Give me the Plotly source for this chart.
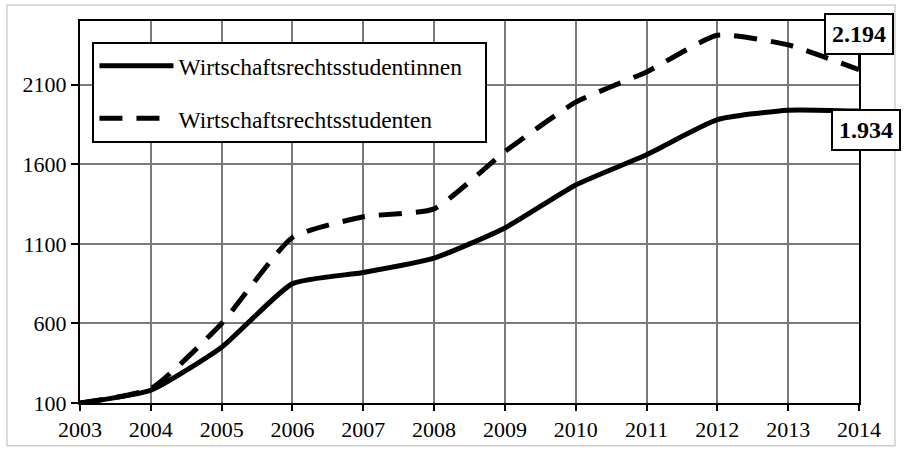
import plotly.graph_objects as go

# Jahre und Studierendenzahlen im Wirtschaftsrecht
years = [2003, 2004, 2005, 2006, 2007, 2008, 2009, 2010, 2011, 2012, 2013, 2014]
studentinnen = [100, 180, 450, 850, 920, 1010, 1200, 1470, 1660, 1880, 1940, 1934]
studenten = [100, 190, 600, 1140, 1270, 1320, 1680, 1990, 2180, 2410, 2350, 2194]

series_names = ["Wirtschaftsrechtsstudentinnen", "Wirtschaftsrechtsstudenten"]
y_ticks = [100, 600, 1100, 1600, 2100]
x_ticks = years
end_labels = ["1.934", "2.194"]

FONT = "Liberation Serif, Times New Roman, serif"
PAD = "\u00a0\u00a0\u00a0"  # etwas Luft rechts im Legendenrahmen

fig = go.Figure()

fig.add_trace(go.Scatter(
    x=years, y=studentinnen, mode="lines", name=series_names[0] + PAD,
    line=dict(color="black", width=5, shape="spline", smoothing=0.5),
    legendgroup="a",
))
fig.add_trace(go.Scatter(
    x=years, y=studenten, mode="lines", name=series_names[1],
    line=dict(color="black", width=5, shape="spline", smoothing=0.5, dash="23px,14px"),
    legendgroup="b",
))

# Endwerte als umrahmte Beschriftungen
fig.add_annotation(
    x=years[-1], y=studenten[-1], text="<b>%s</b>" % end_labels[1],
    showarrow=True, arrowhead=0, arrowwidth=2, arrowcolor="black",
    ax=0, ay=-36, xanchor="center", yanchor="middle",
    font=dict(family=FONT, size=24, color="black"),
    bordercolor="black", borderwidth=2, borderpad=6, bgcolor="white",
)
fig.add_annotation(
    x=years[-1], y=studentinnen[-1], text="<b>%s</b>" % end_labels[0],
    showarrow=True, arrowhead=0, arrowwidth=2, arrowcolor="black",
    ax=7, ay=19, xanchor="center", yanchor="middle",
    font=dict(family=FONT, size=24, color="black"),
    bordercolor="black", borderwidth=2, borderpad=6, bgcolor="white",
)

fig.update_xaxes(
    range=[2003, 2014], tickvals=x_ticks, ticktext=[str(v) for v in x_ticks],
    showgrid=True, gridcolor="#7a7a7a", gridwidth=2,
    showline=True, linecolor="black", linewidth=2, mirror=True,
    ticks="outside", ticklen=6, tickcolor="black", tickwidth=1.5,
    tickfont=dict(family=FONT, size=22, color="black"),
    zeroline=False,
)
fig.update_yaxes(
    range=[100, 2500], tickvals=y_ticks, ticktext=[str(v) for v in y_ticks],
    showgrid=True, gridcolor="#7a7a7a", gridwidth=2,
    showline=True, linecolor="black", linewidth=2, mirror=True,
    ticks="outside", ticklen=7, tickcolor="black", tickwidth=1.5,
    tickfont=dict(family=FONT, size=22, color="black"),
    zeroline=False,
)

fig.update_layout(
    width=904, height=454,
    margin=dict(l=80, r=45, t=21, b=48),
    paper_bgcolor="white", plot_bgcolor="white",
    font=dict(family=FONT, color="black"),
    showlegend=True,
    legend=dict(
        x=0.016, y=0.945, xanchor="left", yanchor="top",
        bgcolor="white", bordercolor="black", borderwidth=2,
        font=dict(family=FONT, size=23.5, color="black"),
        traceorder="grouped", tracegroupgap=19, itemwidth=74,
    ),
    shapes=[dict(
        type="rect", xref="paper", yref="paper",
        x0=-73 / 779, x1=1 + 36 / 779, y0=-43 / 385, y1=1 + 16 / 385,
        line=dict(color="#cfcfcf", width=1.5), layer="below",
    )],
)

fig.write_html("out.html")
